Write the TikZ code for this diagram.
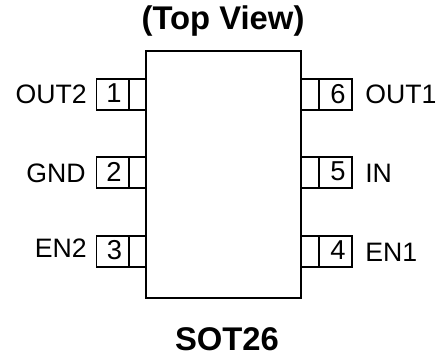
\documentclass[tikz,border=0pt]{standalone}
\usepackage{fontspec}
\setmainfont{Liberation Sans}
\tikzset{
  x=0.75pt,y=-0.75pt,
  body/.style={draw=black,line width=1.3pt,inner sep=0pt,minimum width=116.25pt,minimum height=185.25pt},
  pinlead/.style={draw=black,line width=1.2pt,inner sep=0pt,minimum width=13pt,minimum height=23.25pt},
  pinbox/.style={draw=black,line width=1.2pt,inner sep=0pt,minimum width=25pt,minimum height=23.25pt},
  pinnum/.style={inner sep=0pt,text=black,font=\fontsize{20.5}{20}\selectfont},
  pinname/.style={inner sep=0pt,text=black,font=\fontsize{20}{20}\selectfont},
  heading/.style={inner sep=0pt,text=black,font=\fontsize{24.6}{25}\selectfont\bfseries}
}
\begin{document}
\begin{tikzpicture}
\useasboundingbox (0,0) rectangle (440,356);
\node[heading] (title) at (223,21) {(Top View)};
\node[heading] (pkg) at (227,339) {SOT26};
\node[body] (ic) at (223.5,174.5) {};
% left pins
\node[pinlead] (l1) at (137.5,94.5) {};
\node[pinbox] (b1) at (113,94.5) {};
\node[pinnum] (n1) at (114,93) {1};
\node[pinlead] (l2) at (137.5,172.5) {};
\node[pinbox] (b2) at (113,172.5) {};
\node[pinnum] (n2) at (114,172) {2};
\node[pinlead] (l3) at (137.5,251.5) {};
\node[pinbox] (b3) at (113,251.5) {};
\node[pinnum] (n3) at (114.5,250.5) {3};
% right pins
\node[pinlead] (r6) at (310,94.5) {};
\node[pinbox] (b6) at (335.5,94.5) {};
\node[pinnum] (n6) at (338,94) {6};
\node[pinlead] (r5) at (310,172.5) {};
\node[pinbox] (b5) at (335.5,172.5) {};
\node[pinnum] (n5) at (338,171) {5};
\node[pinlead] (r4) at (310,251.5) {};
\node[pinbox] (b4) at (335.5,251.5) {};
\node[pinnum] (n4) at (338,250.5) {4};
% names
\node[pinname,anchor=east] (t1) at (87,94) {OUT2};
\node[pinname,anchor=east] (t2) at (86,173) {GND};
\node[pinname,anchor=east] (t3) at (87,248) {EN2};
\node[pinname,anchor=west] (t6) at (365,94) {OUT1};
\node[pinname,anchor=west] (t5) at (365,173) {IN};
\node[pinname,anchor=west] (t4) at (365,252) {EN1};
\end{tikzpicture}
\end{document}
